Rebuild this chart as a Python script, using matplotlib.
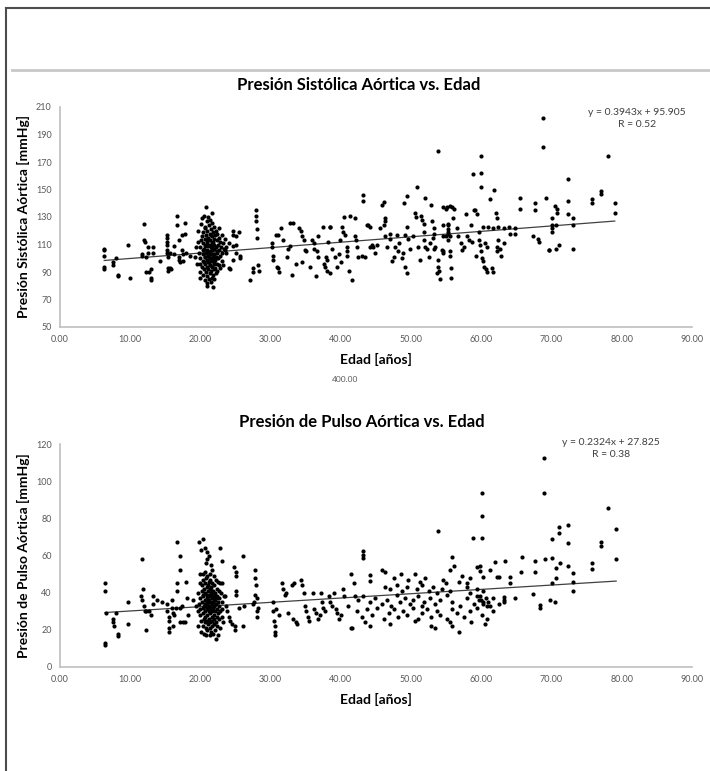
import numpy as np
import matplotlib
matplotlib.use("Agg")
import matplotlib.pyplot as plt
from matplotlib.lines import Line2D

plt.rcParams['font.family'] = ['Lato', 'DejaVu Sans']

# edad [años], presión sistólica aórtica [mmHg]
sistolica = [
    (6.3, 107), (6.3, 106), (6.3, 102), (6.3, 94), (6.3, 92),
    (7.5, 97), (7.5, 95), (8.0, 100), (8.3, 88), (8.3, 87),
    (9.7, 110), (10.0, 86),
    (11.7, 103), (11.7, 102), (12.0, 125), (12.0, 113), (12.1, 112), (12.3, 101), (12.3, 90),
    (12.6, 108), (12.6, 104), (12.7, 90), (13.0, 92), (13.0, 86), (13.0, 84), (13.3, 108), (13.3, 104),
    (14.3, 98),
    (15.3, 117), (15.3, 115), (15.3, 112), (15.3, 110), (15.3, 106), (15.3, 104), (15.4, 101),
    (15.4, 93), (15.4, 91), (15.7, 104), (15.7, 93), (15.8, 92),
    (16.3, 109), (16.3, 103), (16.6, 131), (16.6, 124), (17.0, 113), (17.0, 101), (17.0, 99),
    (17.1, 97), (17.4, 117), (17.4, 106), (17.5, 103), (17.5, 98), (17.8, 126), (17.8, 118), (17.9, 104),
    (18.5, 102), (19.2, 101), (19.4, 108), (19.5, 96),
    # grupo de 20-23 años
    (19.7, 112), (19.8, 104), (19.9, 96), (19.7, 120), (19.9, 90), (20.0, 108), (20.0, 100), (20.1, 125),
    (20.0, 86), (20.2, 116), (20.2, 94), (20.3, 111), (20.3, 103), (20.2, 129), (20.4, 98), (20.4, 119),
    (20.3, 88), (20.5, 107), (20.5, 92), (20.5, 131), (20.6, 114), (20.6, 101), (20.6, 84), (20.7, 122),
    (20.7, 109), (20.7, 96), (20.8, 137), (20.8, 117), (20.8, 104), (20.8, 90), (20.9, 127), (20.9, 112),
    (20.9, 99), (20.9, 82), (21.0, 120), (21.0, 106), (21.0, 94), (21.0, 87), (21.0, 80), (21.1, 130),
    (21.1, 115), (21.1, 102), (21.1, 92), (21.2, 124), (21.2, 110), (21.2, 97), (21.2, 85), (21.3, 118),
    (21.3, 105), (21.3, 100), (21.3, 89), (21.4, 128), (21.4, 113), (21.4, 95), (21.5, 121), (21.5, 108),
    (21.5, 103), (21.5, 91), (21.5, 83), (21.6, 133), (21.6, 116), (21.6, 99), (21.6, 86), (21.7, 126),
    (21.7, 111), (21.7, 106), (21.7, 94), (21.8, 119), (21.8, 101), (21.8, 88), (21.8, 79), (21.9, 114),
    (21.9, 107), (21.9, 97), (21.9, 92), (22.0, 123), (22.0, 110), (22.0, 103), (22.0, 85), (22.1, 117),
    (22.1, 99), (22.1, 93), (22.2, 120), (22.2, 108), (22.2, 101), (22.2, 89), (22.3, 113), (22.3, 96),
    (22.4, 105), (22.4, 118), (22.4, 91), (22.5, 110), (22.5, 100), (22.6, 115), (22.6, 95), (22.7, 106),
    (22.7, 122), (22.8, 102), (22.8, 112), (22.8, 93), (22.9, 108), (23.0, 117), (23.0, 98), (23.1, 104),
    (23.2, 111), (23.2, 95), (23.3, 107),
    (20.1, 113), (20.4, 106), (20.6, 123), (20.9, 105), (21.1, 109), (21.2, 103), (21.4, 100), (21.6, 109),
    (21.8, 112), (22.0, 96), (20.7, 101), (21.0, 113), (21.3, 95), (21.5, 117), (21.9, 102), (22.3, 104),
    (20.5, 97), (21.7, 98), (21.1, 97), (20.8, 110),
    (23.5, 114), (23.6, 108), (23.5, 106), (23.7, 104), (24.0, 111), (24.1, 93), (24.2, 92),
    (24.6, 120), (24.6, 117), (24.7, 109), (24.7, 99), (25.0, 116), (25.0, 110), (25.1, 104),
    (25.5, 119), (25.6, 102), (25.7, 100),
    (27.1, 84), (27.5, 93), (27.5, 90), (27.9, 135), (27.9, 131), (27.9, 127), (28.0, 121), (28.1, 115),
    (28.2, 95), (28.3, 91),
    (30.2, 111), (30.2, 108), (30.3, 102), (30.3, 99), (30.7, 117), (31.0, 117), (30.9, 94), (31.1, 93),
    (31.2, 90), (31.5, 122), (31.7, 113), (32.3, 101), (32.5, 107), (32.8, 109), (33.0, 88), (32.7, 126),
    (33.2, 126), (33.6, 96), (34.0, 122), (34.3, 120), (34.4, 116), (34.4, 97), (34.7, 113), (34.9, 106),
    (35.1, 105), (35.6, 94), (35.9, 113), (36.1, 111), (36.1, 107), (36.4, 87), (36.8, 116), (36.8, 101),
    (36.6, 105), (37.5, 123), (37.6, 96), (37.8, 94), (37.9, 101), (38.0, 99), (38.0, 91), (38.2, 112),
    (38.4, 123), (38.5, 123), (38.7, 107), (38.5, 89), (39.2, 101), (39.4, 94), (39.7, 103), (39.9, 113),
    (40.0, 97), (40.1, 123), (40.3, 119), (40.4, 130), (40.6, 117), (40.8, 105), (40.8, 102), (40.9, 108),
    (41.1, 91), (41.3, 131), (41.6, 84), (42.0, 129), (42.0, 116), (42.2, 113), (42.3, 108), (42.5, 101),
    (43.0, 102), (43.1, 146), (43.2, 142), (43.5, 101), (43.7, 124), (43.9, 124), (44.2, 123), (44.2, 108),
    (44.4, 110), (44.6, 108), (44.9, 104), (45.1, 110), (45.6, 122), (45.8, 139), (46.1, 124), (46.2, 141),
    (46.3, 129), (46.3, 116), (46.5, 108), (46.3, 127), (47.0, 118), (47.0, 114), (47.3, 98), (47.5, 101),
    (47.7, 108), (48.0, 117), (48.2, 105), (48.3, 111), (48.7, 100), (48.9, 104), (49.0, 140), (49.2, 117),
    (49.4, 145), (49.2, 94), (49.4, 89), (49.6, 114), (49.4, 123), (49.8, 107), (50.3, 116), (50.6, 133),
    (50.7, 130), (50.8, 152), (51.0, 108), (51.3, 99), (51.4, 131), (51.5, 128), (51.8, 119), (51.8, 113),
    (51.9, 125), (52.0, 144), (52.0, 108), (52.2, 107), (52.5, 101), (52.7, 111), (52.8, 139), (53.0, 127),
    (53.1, 115), (53.2, 122), (53.2, 118), (53.2, 107), (53.4, 108), (53.7, 89), (53.8, 178), (53.9, 99),
    (53.9, 94), (54.0, 91), (54.1, 85), (54.4, 106), (54.6, 104), (54.9, 116), (54.9, 136), (55.1, 137),
    (55.3, 125), (55.3, 119), (55.5, 116),
    (54.6, 137), (55.5, 138), (55.8, 137), (56.1, 136), (54.5, 124), (55.2, 124), (55.2, 121), (55.2, 118),
    (54.6, 116), (55.3, 113), (54.5, 105), (55.6, 105), (55.6, 102), (55.7, 93), (55.7, 86),
    (56.0, 129), (56.5, 122), (56.7, 116), (57.1, 111), (57.2, 106), (57.5, 108), (57.8, 132),
    (58.0, 116), (58.2, 113), (58.5, 124), (58.6, 112), (58.9, 135), (59.1, 135), (59.4, 132), (59.3, 102),
    (59.6, 119), (59.7, 113), (59.8, 110), (59.9, 105), (60.1, 100), (60.2, 98), (60.4, 94), (60.7, 92),
    (60.8, 90), (61.5, 93), (61.6, 90),
    (60.3, 123), (60.5, 111), (60.8, 108), (61.0, 123), (61.7, 122), (62.1, 133), (62.2, 129), (62.4, 123),
    (62.4, 113), (62.3, 108), (62.7, 107), (63.2, 122), (63.2, 111), (63.9, 123), (64.1, 118), (64.8, 122),
    (64.8, 118), (62.2, 105), (62.8, 102),
    (58.8, 161), (59.9, 174), (59.9, 162), (59.9, 152), (61.2, 143), (61.8, 150),
    (65.5, 144), (65.5, 136), (67.3, 116), (67.6, 140), (67.6, 135), (68.1, 114), (68.2, 112), (68.8, 202),
    (68.8, 181), (69.2, 144), (69.6, 106), (69.7, 106), (70.0, 129), (70.0, 124), (70.0, 122), (70.0, 119),
    (70.5, 138), (70.6, 124), (70.8, 136), (70.8, 133), (70.6, 107), (71.1, 110), (72.4, 158), (72.4, 142),
    (72.4, 132), (73.0, 107), (73.1, 129), (73.1, 124), (75.7, 143), (75.7, 140), (77.0, 149), (77.0, 147),
    (78.0, 174), (79.0, 140), (79.0, 133),
]

# edad [años], presión de pulso aórtica [mmHg]
pulso = [
    (6.4, 45), (6.4, 41), (6.5, 29), (6.4, 13), (6.4, 12),
    (7.6, 26), (7.6, 24), (7.7, 22), (8.0, 29), (8.2, 18), (8.2, 16.5),
    (9.7, 35), (9.7, 23),
    (11.7, 58), (11.8, 42), (11.5, 38), (11.7, 36), (11.9, 33), (12.1, 30), (12.2, 20), (12.3, 30),
    (12.7, 30), (13.0, 28), (13.2, 38), (13.2, 34), (13.8, 36), (14.5, 35),
    (15.3, 34), (15.3, 30), (15.5, 27), (15.5, 25), (15.5, 21), (15.5, 19), (15.9, 36), (15.9, 32),
    (16.1, 29), (16.2, 28), (16.1, 22),
    (16.6, 67), (17.1, 60), (17.1, 52), (16.7, 45), (16.7, 41), (16.5, 32), (17.1, 32), (17.4, 33),
    (17.1, 24), (17.5, 24), (17.8, 24),
    (17.9, 46), (18.1, 37), (18.2, 28), (18.9, 36), (19.3, 33), (19.6, 30),
    # grupo de 20-23 años
    (19.7, 40), (19.8, 34), (19.9, 28), (19.7, 22), (19.8, 67), (19.9, 45), (20.0, 50), (20.0, 37),
    (20.0, 31), (20.1, 25), (20.1, 19), (20.1, 63), (20.2, 44), (20.2, 41), (20.2, 35), (20.3, 29),
    (20.3, 22), (20.3, 50), (20.4, 69), (20.4, 47), (20.4, 38), (20.4, 32), (20.5, 26), (20.5, 18),
    (20.5, 42), (20.6, 36), (20.6, 30), (20.6, 24), (20.6, 51), (20.7, 64), (20.7, 45), (20.7, 40),
    (20.7, 33), (20.7, 27), (20.8, 21), (20.8, 17), (20.8, 56), (20.8, 48), (20.9, 43), (20.9, 37),
    (20.9, 31), (20.9, 25), (21.0, 62), (21.0, 58), (21.0, 49), (21.0, 39), (21.0, 34), (21.0, 28),
    (21.0, 20), (21.1, 44), (21.1, 41), (21.1, 32), (21.1, 23), (21.2, 60), (21.2, 46), (21.2, 36),
    (21.2, 30), (21.2, 26), (21.3, 50), (21.3, 42), (21.3, 38), (21.3, 33), (21.3, 21), (21.3, 17),
    (21.4, 47), (21.4, 35), (21.4, 29), (21.4, 24), (21.5, 55), (21.5, 43), (21.5, 40), (21.5, 31),
    (21.5, 19), (21.6, 37), (21.6, 34), (21.6, 27), (21.6, 22), (21.7, 52), (21.7, 45), (21.7, 39),
    (21.7, 30), (21.7, 25), (21.8, 41), (21.8, 35), (21.8, 32), (21.8, 18), (21.9, 49), (21.9, 38),
    (21.9, 28), (21.9, 23), (22.0, 44), (22.0, 36), (22.0, 33), (22.0, 26), (22.1, 40), (22.1, 30),
    (22.1, 20), (22.2, 47), (22.2, 37), (22.2, 34), (22.2, 24), (22.2, 15), (22.3, 42), (22.3, 31),
    (22.3, 27), (22.4, 38), (22.4, 22), (22.5, 46), (22.5, 35), (22.5, 29), (22.5, 17), (22.6, 41),
    (22.6, 33), (22.7, 37), (22.7, 26), (22.8, 64), (22.8, 45), (22.8, 30), (22.8, 21), (22.9, 40),
    (23.0, 57), (23.0, 35), (23.0, 27), (23.1, 45), (23.1, 31), (23.2, 24), (23.3, 38),
    (20.3, 39), (20.6, 34), (21.1, 36), (21.4, 39), (21.6, 41), (21.9, 33), (20.9, 35), (22.1, 36),
    (20.5, 33), (21.2, 33),
    (23.5, 38), (23.6, 33), (23.8, 30), (24.0, 27), (24.2, 25), (24.5, 23), (24.8, 54), (25.0, 51),
    (25.0, 49), (25.1, 41), (25.1, 39), (24.9, 22), (24.9, 20), (25.5, 32), (26.0, 60), (26.2, 33), (26.0, 22),
    (27.5, 34), (27.8, 52), (27.8, 48), (27.9, 44), (27.7, 39), (27.6, 35), (28.0, 27), (28.2, 32),
    (28.0, 37), (28.1, 30),
    (30.3, 35), (30.3, 30), (30.5, 25), (30.6, 22), (30.6, 19), (30.6, 17), (30.8, 31), (31.2, 28),
    (31.6, 45), (31.7, 42), (32.2, 40), (32.4, 29), (32.0, 39),
    (33.1, 44), (33.3, 45), (33.6, 24), (33.2, 26), (33.8, 23),
    (34.3, 47), (34.5, 44), (34.8, 40), (34.9, 33), (35.0, 30), (35.3, 27), (35.4, 25),
    (36.0, 40), (36.2, 31), (36.4, 29), (36.7, 26), (37.0, 28), (37.2, 40), (37.3, 35), (37.5, 32), (37.7, 30),
    (38.3, 38), (38.5, 35), (38.8, 33), (39.0, 40), (39.3, 31), (39.5, 29), (39.8, 26), (40.0, 28),
    (40.3, 42), (40.5, 38), (41.0, 33), (41.4, 50), (41.5, 21), (41.8, 45), (42.0, 38), (42.4, 36),
    (43.2, 62.6), (43.2, 60.3), (43.2, 58.5), (44.2, 49.5), (44.2, 46.5), (45.8, 52), (46.3, 51),
    (47.5, 48), (48.5, 50), (49.5, 47), (50.5, 50), (51.2, 46), (52.0, 48), (53.8, 73), (54.5, 47),
    (55.0, 45), (56.8, 46), (57.3, 49),
    (46.3, 43), (47.0, 42), (48.0, 44), (48.7, 41), (49.4, 43), (50.8, 42), (51.5, 44), (52.5, 41),
    (53.1, 43), (53.7, 40), (54.4, 42), (55.6, 41), (58.0, 43), (58.4, 40), (59.4, 42), (60.3, 41),
    (43.2, 38), (44.2, 35), (44.9, 37), (45.8, 34), (46.5, 36), (47.2, 33), (48.0, 39), (48.4, 35),
    (49.1, 37), (49.9, 34), (50.3, 36), (51.0, 38), (51.5, 33), (51.8, 35), (52.7, 37), (53.4, 34),
    (54.1, 36), (55.1, 39), (55.8, 35), (57.0, 33), (57.9, 37), (58.9, 34), (59.6, 36), (59.8, 38),
    (60.3, 35), (60.8, 33), (61.7, 37), (62.5, 34), (63.2, 36),
    (42.3, 30), (43.0, 27), (43.7, 31), (44.4, 28), (45.1, 32), (46.1, 26), (46.8, 29), (47.5, 31),
    (48.2, 27), (48.9, 30), (49.4, 28), (50.3, 32), (51.0, 26), (51.5, 29), (52.2, 31), (52.9, 27),
    (53.7, 30), (54.1, 28), (55.1, 26), (55.8, 31), (56.5, 29), (57.5, 27), (58.4, 30), (59.4, 32),
    (60.1, 28), (60.8, 26), (61.7, 30),
    (41.6, 21), (43.5, 24), (44.2, 22), (52.9, 22), (53.4, 21), (55.6, 24), (55.8, 22), (56.8, 19),
    (47.0, 23), (50.5, 25), (58.5, 24), (60.5, 23),
    (59.4, 38), (59.9, 36), (60.2, 34), (60.6, 37), (61.0, 35), (61.3, 33),
    (55.8, 59.4), (56.1, 54.4), (55.6, 52.2), (58.0, 45), (58.4, 47.8), (59.4, 54), (59.8, 54.4),
    (59.8, 51.9), (60.3, 48.6), (61.3, 52.2), (62.0, 56.7), (62.2, 48.3), (62.5, 48.6),
    (58.8, 69.3), (60.1, 69.3), (60.1, 81.3), (60.1, 93.5),
    (63.2, 37.9), (63.2, 35.2), (64.1, 48.3), (64.1, 45.4), (63.4, 57.3), (64.8, 37),
    (65.8, 59.4), (65.6, 51.3), (67.6, 57.3), (67.6, 51.3), (67.4, 39.1), (68.3, 33.4), (68.3, 31.6),
    (68.9, 112.3), (68.9, 93.5), (69.1, 58.2), (70.1, 58.5), (70.1, 68.7), (70.0, 45), (69.8, 36.1),
    (70.5, 35.2), (70.7, 53.1), (70.7, 47.8), (71.0, 75.6), (71.0, 72.3), (71.2, 56.2), (72.4, 76.5),
    (72.4, 66.6), (72.4, 54.4), (73.1, 50.4), (73.1, 46), (73.1, 41.1),
    (75.7, 55.8), (75.7, 52.6), (77.0, 67.5), (77.0, 65.1), (78.0, 85.4), (79.2, 74.1), (79.2, 58.2),
]

# coeficientes de las líneas de tendencia
trend_sist = (0.3943, 95.905, 0.52)
trend_pulso = (0.2324, 27.825, 0.38)

x_ticks = np.arange(0, 91, 10)

fig = plt.figure(figsize=(7.10, 7.71), dpi=100)

# marco de la página
fig.add_artist(Line2D([6 / 710, 6 / 710], [0, 1 - 8 / 771], color='#4d4d4d', lw=1.5))
fig.add_artist(Line2D([6 / 710, 1], [1 - 8 / 771, 1 - 8 / 771], color='#4d4d4d', lw=1.5))
fig.add_artist(Line2D([12 / 710, 1], [1 - 70 / 771, 1 - 70 / 771], color='#c8c8c8', lw=2))


def panel(rect, data, trend, ylim, yticks, title, title_x, ylabel, note_xy):
    ax = fig.add_axes(rect)
    edad = np.array([p[0] for p in data])
    val = np.array([p[1] for p in data])
    ax.scatter(edad, val, s=9, color='black', linewidths=0, zorder=3)
    m, b, r = trend
    xs = np.array([edad.min(), edad.max()])
    ax.plot(xs, m * xs + b, color='#404040', lw=0.9, zorder=2)
    ax.set_xlim(0, 90)
    ax.set_ylim(*ylim)
    ax.set_xticks(x_ticks)
    ax.set_xticklabels(['%.2f' % t for t in x_ticks])
    ax.set_yticks(yticks)
    for s in ['top', 'right']:
        ax.spines[s].set_visible(False)
    for s in ['left', 'bottom']:
        ax.spines[s].set_color('#bfbfbf')
        ax.spines[s].set_linewidth(1.2)
    ax.tick_params(length=0, labelsize=6.5, labelcolor='#595959', pad=6)
    ax.set_title(title, fontsize=12, fontweight='bold', pad=12, x=title_x)
    ax.set_xlabel('Edad [años]', fontsize=10, fontweight='bold', labelpad=6)
    ax.set_ylabel(ylabel, fontsize=10, fontweight='bold', labelpad=4)
    ax.text(note_xy[0], note_xy[1], 'y = %.4fx + %.3f\nR = %.2f' % (m, b, r),
            transform=fig.transFigure, ha='center', va='top', fontsize=7.5,
            color='#404040', linespacing=1.4)
    return ax


panel([60 / 710, 1 - 327 / 771, 632 / 710, 220 / 771], sistolica, trend_sist,
      (50, 210), np.arange(50, 211, 20),
      'Presión Sistólica Aórtica vs. Edad', 0.473, 'Presión Sistólica Aórtica [mmHg]',
      (637 / 710, 1 - 108 / 771))

panel([60 / 710, 1 - 667 / 771, 632 / 710, 223 / 771], pulso, trend_pulso,
      (0, 120), np.arange(0, 121, 20),
      'Presión de Pulso Aórtica vs. Edad', 0.478, 'Presión de Pulso Aórtica [mmHg]',
      (611 / 710, 1 - 438 / 771))

fig.text(345 / 710, 1 - 380 / 771, '400.00', fontsize=6, color='#595959',
         ha='center', va='center')

fig.savefig('out.png', dpi=100)
